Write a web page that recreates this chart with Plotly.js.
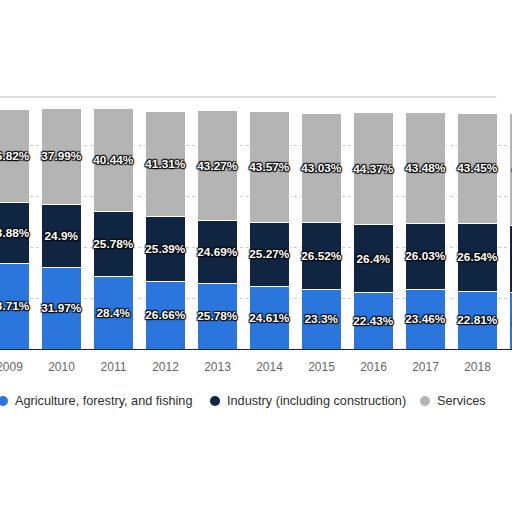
<!DOCTYPE html>
<html>
<head>
<meta charset="utf-8">
<script src="https://cdn.plot.ly/plotly-3.0.1.min.js"></script>
<style>
	html, body {margin:0; padding:0; background:#fff;}
	#myDiv {width:512px; height:512px;}
</style>
</head>
<body>
<div id="myDiv"></div>
<script>
// share of each sector, per year (2019 is cut off at the right edge)
var years = ['2009', '2010', '2011', '2012', '2013', '2014', '2015', '2016', '2017', '2018', '2019'];
var agriculture = [33.71, 31.97, 28.4, 26.66, 25.78, 24.61, 23.3, 22.43, 23.46, 22.81, 22.1];
var industry = [23.88, 24.9, 25.78, 25.39, 24.69, 25.27, 26.52, 26.4, 26.03, 26.54, 26.7];
var services = [36.82, 37.99, 40.44, 41.31, 43.27, 43.57, 43.03, 44.37, 43.48, 43.45, 44.1];
var seriesNames = ['Agriculture, forestry, and fishing', 'Industry (including construction)', 'Services'];
var seriesColors = ['#2a76dc', '#0f2541', '#b4b4b4'];

function pct(arr){
	let out = [];
	for (var i in arr){
		out.push(arr[i] + '%');
	};
	return out;
};

var values = [agriculture, industry, services];
var data = [];
for (var s = 0; s < values.length; s++){
	data.push({
		x: years,
		y: values[s],
		type: 'bar',
		name: seriesNames[s],
		text: pct(values[s]),
		textposition: 'inside',
		insidetextanchor: 'middle',
		constraintext: 'none',
		textangle: 0,
		textfont: {family: 'Liberation Sans', size: 11.8, color: '#ffffff', weight: 'bold',
			shadow: '0px 0px 2px #000, 1px 1px 1px #000, -1px -1px 1px #111, 1px -1px 1px #111, -1px 1px 1px #111'},
		hoverinfo: 'none',
		showlegend: false,
		marker: {color: seriesColors[s], line: {color: '#ffffff', width: 1}}
	});
};

// legend row under the axis: dot + label, placed in pixels
var legendX = [3, 215, 425];
var legendY = 401;
var plotTop = 95, plotBottom = 349;
function py(v){ return (plotBottom - v) / (plotBottom - plotTop); };

var annotations = [];
var shapes = [{
	type: 'line',
	xref: 'paper', yref: 'paper',
	x0: 0, x1: 0.97, y0: py(97), y1: py(97),
	line: {color: '#d4d4d4', width: 1.5}
}];
for (var s = 0; s < seriesNames.length; s++){
	shapes.push({
		type: 'circle',
		xref: 'paper', yref: 'paper',
		xsizemode: 'pixel', ysizemode: 'pixel',
		xanchor: legendX[s] / 512, yanchor: py(legendY),
		x0: -5, x1: 5, y0: -5, y1: 5,
		fillcolor: seriesColors[s],
		line: {width: 0}
	});
	annotations.push({
		xref: 'paper', yref: 'paper',
		x: (legendX[s] + 10) / 512, y: py(legendY),
		xanchor: 'left', yanchor: 'middle',
		text: seriesNames[s],
		showarrow: false,
		font: {family: 'Liberation Sans', size: 12.7, color: '#2e2e2e'}
	});
};

var layout = {
	width: 512,
	height: 512,
	barmode: 'stack',
	bargap: 0.23,
	paper_bgcolor: '#ffffff',
	plot_bgcolor: '#ffffff',
	font: {family: 'Liberation Sans', color: '#333333'},
	margin: {l: 0, r: 0, t: plotTop, b: 512 - plotBottom, pad: 0, autoexpand: false},
	xaxis: {
		type: 'category',
		range: [-0.183, 9.663],
		showline: true,
		linecolor: '#1c2a3a',
		linewidth: 1,
		ticks: '',
		ticklabelstandoff: 7,
		tickfont: {family: 'Liberation Sans', size: 12, color: '#666666'},
		showgrid: false,
		fixedrange: true
	},
	yaxis: {
		range: [0, 100],
		dtick: 20,
		showgrid: true,
		gridcolor: '#cccccc',
		griddash: 'dot',
		gridwidth: 1,
		showticklabels: false,
		zeroline: false,
		fixedrange: true
	},
	showlegend: false,
	shapes: shapes,
	annotations: annotations
};

Plotly.newPlot('myDiv', data, layout, {displayModeBar: false, responsive: false});
</script>
</body>
</html>
